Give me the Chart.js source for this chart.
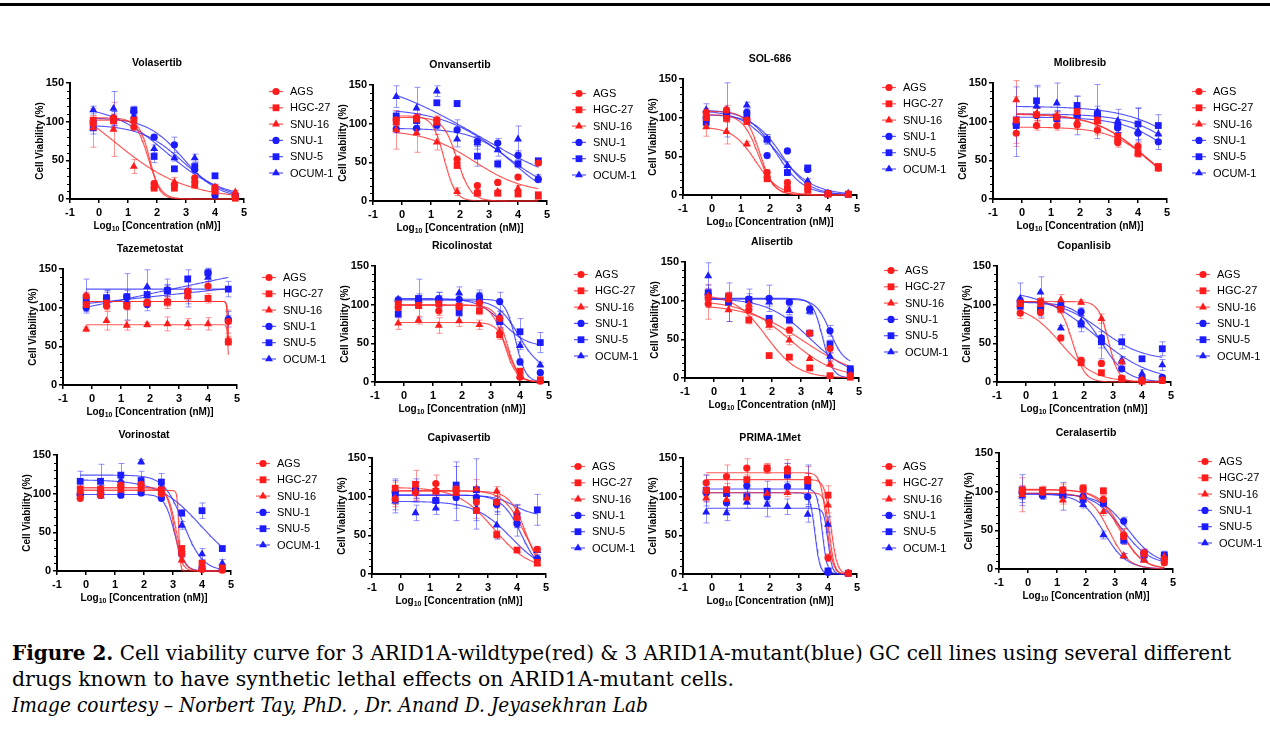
<!DOCTYPE html>
<html>
<head>
<meta charset="utf-8">
<script src="https://cdn.jsdelivr.net/npm/chart.js@4.4.1/dist/chart.umd.min.js"></script>
<style>
  body { margin: 0; width: 1270px; height: 751px; background: #fff; position: relative; overflow: hidden; }
  #topRule { position: absolute; left: 0; top: 3px; width: 1270px; height: 3px; background: #000; }
  .panel { position: absolute; }
  #caption { position: absolute; left: 12px; top: 640px; font-family: "DejaVu Serif", serif; font-size: 19px; line-height: 26px; color: #000; white-space: nowrap; }
  #caption span { display: inline-block; transform-origin: 0 50%; }
</style>
</head>
<body>
<div id="topRule"></div>
<div id="panels"></div>
<div id="caption">
  <span id="capLine1"><b>Figure 2.</b> Cell viability curve for 3 ARID1A-wildtype(red) &amp; 3 ARID1A-mutant(blue) GC cell lines using several different</span><br>
  <span id="capLine2">drugs known to have synthetic lethal effects on ARID1A-mutant cells.</span><br>
  <span id="capLine3"><i>Image courtesy – Norbert Tay, PhD. , Dr. Anand D. Jeyasekhran Lab</i></span>
</div>
<script>
// log10 doses (nM) used on every plate
const doses = [-0.2, 0.5, 1.2, 1.9, 2.6, 3.3, 4.0, 4.7];
const cellLines = ["AGS", "HGC-27", "SNU-16", "SNU-1", "SNU-5", "OCUM-1"];
const drugs = ["Volasertib", "Onvansertib", "SOL-686", "Molibresib", "Tazemetostat", "Ricolinostat",
               "Alisertib", "Copanlisib", "Vorinostat", "Capivasertib", "PRIMA-1Met", "Ceralasertib"];
const xTicks = [-1, 0, 1, 2, 3, 4, 5];
const yTicks = [0, 50, 100, 150];

// mean viability, rows follow cellLines
const volasertibMean = [[97,105,93,20,18,27,15,2],[102,101,102,14,14,18,10,1],[92,90,42,17,22,25,12,9],
  [100,105,113,80,70,38,5,4],[92,103,115,55,39,42,30,3],[115,117,107,65,53,53,15,6]];
const volasertibErr = [[8,5,4,4,3,4,4,1],[6,6,4,3,2,3,3,1],[25,35,9,3,6,5,5,2],
  [5,8,5,3,10,5,3,2],[8,10,5,8,3,5,3,2],[5,22,5,5,4,5,4,2]];
// fitted curve: [top, bottom, logIC50, hill]
const volasertibFit = [[102,0,1.75,2.5],[105,0,1.7,2.0],[150,0,0.5,0.35],[105,0,2.9,0.7],[96,0,2.9,0.6],[122,0,2.3,0.45]];

const onvansertibMean = [[105,108,105,54,20,24,31,49],[102,106,102,46,10,10,9,8],[92,88,76,12,12,12,16,5],
  [93,94,98,92,77,75,59,28],[110,104,127,126,58,48,48,52],[135,120,142,80,75,66,80,30]];
const onvansertibErr = [[6,5,5,4,3,3,3,3],[6,5,6,4,3,3,2,2],[25,25,10,5,3,3,4,2],
  [5,8,5,13,6,6,6,4],[6,6,3,4,13,5,5,3],[14,27,7,10,8,8,17,4]];
const onvansertibFit = [[92,10,2.5,0.5],[108,0,1.9,1.8],[110,0,1.45,2.2],[94,0,3.9,0.6],[120,0,3.5,0.4],[170,0,2.6,0.22]];

const sol686Mean = [[107,110,97,29,16,12,2,1],[100,99,95,21,8,6,1,1],[88,82,66,25,8,9,1,1],
  [100,105,107,51,57,33,2,1],[94,103,100,72,29,35,2,1],[110,110,116,72,38,18,2,2]];
const sol686Err = [[5,6,4,4,4,3,1,1],[5,5,4,3,2,2,1,1],[12,16,3,3,2,2,1,1],
  [5,5,3,3,2,2,1,1],[5,5,4,6,3,3,1,1],[8,35,4,6,5,3,1,1]];
const sol686Fit = [[108,0,1.65,1.8],[104,0,1.6,1.6],[88,0,1.5,1.1],[104,0,2.4,0.9],[110,0,2.2,0.9],[110,0,2.25,0.7]];

const molibresibMean = [[85,95,95,96,89,73,68,40],[102,109,106,113,102,81,59,42],[128,110,107,100,100,78,60,39],
  [97,108,106,108,108,92,85,74],[95,127,104,121,110,94,97,95],[100,120,124,108,113,101,88,84]];
const molibresibErr = [[17,6,6,6,6,6,5,3],[30,8,6,6,6,8,5,3],[25,8,6,6,6,8,5,3],
  [10,10,8,8,8,6,10,10],[8,20,10,12,10,8,20,14],[45,25,26,25,35,15,30,12]];
const molibresibFit = [[93,0,4.5,0.6],[111,0,4.2,0.5],[110,0,4.25,0.5],[106,0,5.43,0.5],[120,0,6.0,0.4],[110,0,5.7,0.5]];

const tazemetostatMean = [[115,102,102,107,108,121,128,82],[104,106,103,106,107,115,112,56],[72,83,77,78,79,79,79,58],
  [100,112,114,104,123,121,145,85],[108,113,114,117,122,137,145,124],[115,110,108,127,122,115,139,85]];
const tazemetostatErr = [[5,5,5,5,6,6,6,15],[5,5,5,5,8,6,6,5],[3,12,6,3,9,7,8,5],
  [5,10,8,8,6,20,5,10],[6,10,30,10,8,12,6,10],[22,10,10,22,15,10,5,5]];
const tazemetostatFit = [[108,0,4.7,20],[108,0,4.7,20],[78,0,4.7,20],[80,150,2.25,0.1],[124,124,2.25,1],[50,190,2.25,0.1]];

const ricolinostatMean = [[96,99,92,97,102,82,6,1],[101,99,101,98,92,61,14,3],[76,80,73,79,74,65,8,1],
  [106,106,108,107,111,104,26,12],[88,108,106,90,107,78,65,51],[107,107,107,115,106,85,47,22]];
const ricolinostatErr = [[5,4,6,4,4,5,2,1],[5,4,4,4,5,6,3,2],[8,5,10,7,6,5,2,1],
  [3,8,8,5,8,12,4,2],[5,25,10,5,8,8,17,13],[3,5,5,8,10,6,5,3]];
const ricolinostatFit = [[99,0,3.55,2.2],[100,0,3.45,2.0],[77,0,3.6,2.2],[107,0,3.85,2.5],[108,45,3.4,1.0],[106,15,3.95,1.2]];

const alisertibMean = [[96,102,88,72,62,58,38,3],[104,106,75,29,27,13,3,1],[106,88,95,68,49,25,18,3],
  [108,105,102,103,98,89,61,10],[110,98,101,77,75,58,44,12],[132,103,100,98,87,86,28,8]];
const alisertibErr = [[20,5,4,5,4,3,6,1],[10,5,5,2,3,2,1,1],[15,15,5,5,6,2,3,1],
  [6,5,13,17,3,4,7,3],[10,25,8,4,5,3,5,3],[17,5,5,5,5,4,5,3]];
const alisertibFit = [[95,0,3.1,0.45],[108,0,1.8,0.8],[100,0,2.6,0.55],[102,18,4.0,1.8],[103,0,3.3,0.6],[103,0,3.75,2.5]];

const copanlisibMean = [[89,90,57,28,24,5,2,2],[102,104,94,25,12,4,1,2],[100,100,106,103,82,26,3,2],
  [104,92,97,91,57,17,5,6],[98,94,99,75,52,52,30,43],[108,116,70,78,55,28,11,22]];
const copanlisibErr = [[7,8,3,4,3,2,1,1],[5,5,5,4,3,2,1,1],[5,5,7,3,6,4,2,1],
  [5,8,5,5,8,3,2,2],[5,6,5,10,8,9,3,9],[20,20,3,8,25,5,5,7]];
const copanlisibFit = [[100,0,1.2,0.75],[104,0,1.6,2.0],[104,0,2.85,2.5],[103,0,2.6,1.0],[106,28,2.6,0.6],[120,0,2.4,0.45]];

const vorinostatMean = [[94,98,111,112,100,22,2,1],[106,106,108,107,105,29,10,4],[102,103,104,106,102,14,4,1],
  [98,98,98,101,94,22,4,2],[116,116,124,117,115,75,78,29],[103,106,117,141,108,59,22,10]];
const vorinostatErr = [[3,4,5,5,5,3,1,1],[5,5,5,5,5,4,3,2],[4,4,4,4,5,3,2,1],
  [3,3,3,3,3,3,2,1],[13,22,15,12,11,4,10,3],[5,5,5,3,5,5,7,5]];
const vorinostatFit = [[106,0,3.05,3.5],[108,0,3.1,3.0],[104,0,3.2,15],[99,0,3.05,2.5],[118,0,3.95,0.6],[124,0,3.35,1.3]];

const capivasertibMean = [[97,105,117,110,93,93,73,32],[111,116,107,106,82,51,31,15],[98,107,109,104,110,107,81,13],
  [106,108,95,99,99,90,65,20],[103,108,95,115,109,92,75,83],[94,79,85,104,85,63,69,30]];
const capivasertibErr = [[10,8,11,8,10,8,6,3],[8,18,8,8,10,5,3,3],[8,12,8,8,12,6,8,3],
  [15,10,10,10,10,10,5,3],[20,15,10,30,40,15,15,20],[15,10,8,35,27,18,20,5]];
const capivasertibFit = [[108,0,4.25,1.2],[112,5,3.2,0.7],[107,0,4.3,1.6],[102,0,4.15,1.3],[102,75,3.9,1.2],[94,0,3.8,0.7]];

const prima1MetMean = [[118,126,137,136,136,122,21,1],[108,109,122,137,133,122,102,1],[98,96,98,104,105,119,89,1],
  [105,92,114,100,113,100,2,1],[108,104,100,107,128,114,4,1],[80,79,93,90,87,77,64,1]];
const prima1MetErr = [[10,15,12,6,12,8,5,1],[8,8,6,6,10,8,12,1],[5,5,5,5,5,20,10,1],
  [8,10,8,8,6,10,2,1],[20,8,10,13,15,27,3,1],[14,10,8,16,10,10,10,1]];
const prima1MetFit = [[131,0,3.95,4],[122,0,4.1,4],[105,0,4.05,5],[105,0,3.55,5],[110,0,3.8,5],[85,0,4.0,6]];

const ceralasertibMean = [[100,100,102,104,90,44,21,8],[102,102,102,104,101,42,20,12],[96,98,89,93,74,17,11,16],
  [98,95,96,94,86,62,20,17],[102,97,96,90,85,37,19,18],[94,97,94,83,44,17,12,15]];
const ceralasertibErr = [[8,5,5,5,5,8,5,3],[5,5,8,5,4,10,5,3],[22,5,5,12,5,3,2,3],
  [8,5,5,4,5,5,5,5],[20,5,8,3,4,5,4,5],[8,5,18,4,5,3,2,3]];
const ceralasertibFit = [[102,0,3.2,1.2],[103,0,3.15,1.1],[98,0,2.8,1.3],[97,5,3.45,0.9],[98,5,3.25,0.9],[97,0,2.6,1.1]];

const meanSets = [volasertibMean, onvansertibMean, sol686Mean, molibresibMean, tazemetostatMean, ricolinostatMean,
                  alisertibMean, copanlisibMean, vorinostatMean, capivasertibMean, prima1MetMean, ceralasertibMean];
const errSets = [volasertibErr, onvansertibErr, sol686Err, molibresibErr, tazemetostatErr, ricolinostatErr,
                 alisertibErr, copanlisibErr, vorinostatErr, capivasertibErr, prima1MetErr, ceralasertibErr];
const fitSets = [volasertibFit, onvansertibFit, sol686Fit, molibresibFit, tazemetostatFit, ricolinostatFit,
                 alisertibFit, copanlisibFit, vorinostatFit, capivasertibFit, prima1MetFit, ceralasertibFit];

// layout: pixel position of the y axis / top of the plot for each panel
const panelOrigins = [[70,83],[373,85],[683,79],[993,83],[63,269],[375,266],[685,262],[997,266],
                      [57,455],[372,458],[683,458],[999,453]];
const PLOT_W = 174, PLOT_H = 116, LEFT_W = 60, TOP_H = 32, BOTTOM_H = 42, RIGHT_W = 100;

const RED = "#ff1c1c", BLUE = "#1c1cff";
const seriesColor = [RED, RED, RED, BLUE, BLUE, BLUE];
const seriesFaint = ["rgba(255,60,60,0.55)", "rgba(255,60,60,0.55)", "rgba(255,60,60,0.55)",
                     "rgba(60,60,255,0.55)", "rgba(60,60,255,0.55)", "rgba(60,60,255,0.55)"];
const seriesCurve = ["rgba(255,40,40,0.8)", "rgba(255,40,40,0.8)", "rgba(255,40,40,0.8)",
                     "rgba(40,40,255,0.8)", "rgba(40,40,255,0.8)", "rgba(40,40,255,0.8)"];
const seriesShape = ["circle", "rect", "triangle", "circle", "rect", "triangle"];
const shapeRadius = { circle: 3.6, rect: 4.8, triangle: 4.6 };

const FONT = '"Liberation Sans", Arial, sans-serif';

function fitCurve(p) {
    let top = p[0], bottom = p[1], logIC50 = p[2], hill = p[3];
    let x0 = doses[0], x1 = doses[doses.length - 1];
    let pts = [];
    for (let i = 0; i <= 300; i++) {
        let x = x0 + (x1 - x0) * i / 300;
        pts.push({ x: x, y: bottom + (top - bottom) / (1 + Math.pow(10, (x - logIC50) * hill)) });
    }
    return pts;
}

function drawMarker(ctx, shape, x, y, color) {
    let r = shapeRadius[shape];
    ctx.fillStyle = color;
    ctx.beginPath();
    if (shape === "circle") {
        ctx.arc(x, y, r, 0, Math.PI * 2);
    } else if (shape === "rect") {
        let s = r * Math.SQRT1_2;
        ctx.rect(x - s, y - s, 2 * s, 2 * s);
    } else {
        for (let k = 0; k < 3; k++) {
            let a = k * 2 * Math.PI / 3;
            let px = x + Math.sin(a) * r, py = y - Math.cos(a) * r;
            if (k === 0) ctx.moveTo(px, py); else ctx.lineTo(px, py);
        }
        ctx.closePath();
    }
    ctx.fill();
}

const panelDecor = {
    id: "panelDecor",
    beforeDatasetsDraw(chart) {
        let ctx = chart.ctx, xs = chart.scales.x, ys = chart.scales.y;
        ctx.save();
        ctx.lineWidth = 1;
        chart.data.datasets.forEach(ds => {
            if (!ds.errors) return;
            ctx.strokeStyle = ds.faint;
            ds.data.forEach((pt, j) => {
                let e = ds.errors[j];
                if (!e) return;
                let px = Math.round(xs.getPixelForValue(pt.x)) + 0.5;
                let yTop = ys.getPixelForValue(pt.y + e), yBot = ys.getPixelForValue(Math.max(pt.y - e, 0));
                ctx.beginPath();
                ctx.moveTo(px, yTop); ctx.lineTo(px, yBot);
                ctx.moveTo(px - 3, yTop); ctx.lineTo(px + 3, yTop);
                ctx.moveTo(px - 3, yBot); ctx.lineTo(px + 3, yBot);
                ctx.stroke();
            });
        });
        ctx.restore();
    },
    afterDraw(chart) {
        let ctx = chart.ctx, a = chart.chartArea, ys = chart.scales.y;
        let cx = (a.left + a.right) / 2;
        ctx.save();
        ctx.fillStyle = "#000";

        // minor ticks on the y axis
        ctx.strokeStyle = "#000";
        ctx.lineWidth = 1;
        for (let v = 10; v < 150; v += 10) {
            if (v % 50 === 0) continue;
            let py = Math.round(ys.getPixelForValue(v)) + 0.5;
            ctx.beginPath();
            ctx.moveTo(a.left - 3, py); ctx.lineTo(a.left, py);
            ctx.stroke();
        }

        // drug name
        ctx.font = "bold 10.5px " + FONT;
        ctx.textAlign = "center";
        ctx.textBaseline = "middle";
        ctx.fillText(chart.options.drugName, cx, a.top - 19.5);

        // x title with subscript
        ctx.font = "bold 10px " + FONT;
        let w1 = ctx.measureText("Log").width;
        let w3 = ctx.measureText(" [Concentration (nM)]").width;
        ctx.font = "bold 7px " + FONT;
        let w2 = ctx.measureText("10").width;
        let sx = cx - (w1 + w2 + w3) / 2, ty = a.bottom + 27;
        ctx.textAlign = "left";
        ctx.font = "bold 10px " + FONT;
        ctx.fillText("Log", sx, ty);
        ctx.font = "bold 7px " + FONT;
        ctx.fillText("10", sx + w1, ty + 3);
        ctx.font = "bold 10px " + FONT;
        ctx.fillText(" [Concentration (nM)]", sx + w1 + w2, ty);

        // y title
        ctx.save();
        ctx.translate(a.left - 30, (a.top + a.bottom) / 2);
        ctx.rotate(-Math.PI / 2);
        ctx.textAlign = "center";
        ctx.fillText("Cell Viability (%)", 0, 0);
        ctx.restore();

        // legend
        ctx.font = "11px " + FONT;
        ctx.textAlign = "left";
        cellLines.forEach((name, i) => {
            let lx = a.right + 32, ly = a.top + 8.5 + i * 16.3;
            ctx.strokeStyle = seriesCurve[i];
            ctx.lineWidth = 1.2;
            ctx.beginPath();
            ctx.moveTo(lx - 7, ly); ctx.lineTo(lx + 7, ly);
            ctx.stroke();
            drawMarker(ctx, seriesShape[i], lx, ly, seriesColor[i]);
            ctx.fillStyle = "#000";
            ctx.fillText(name, lx + 14, ly + 0.5);
        });
        ctx.restore();
    }
};

const panelsDiv = document.getElementById("panels");

drugs.forEach((drug, p) => {
    let canvas = document.createElement("canvas");
    canvas.className = "panel";
    canvas.width = LEFT_W + PLOT_W + RIGHT_W;
    canvas.height = TOP_H + PLOT_H + BOTTOM_H;
    canvas.style.left = (panelOrigins[p][0] - LEFT_W) + "px";
    canvas.style.top = (panelOrigins[p][1] - TOP_H) + "px";
    panelsDiv.appendChild(canvas);

    let datasets = [];
    // points first so they draw on top of curves
    cellLines.forEach((name, i) => {
        datasets.push({
            label: name,
            data: doses.map((x, j) => ({ x: x, y: meanSets[p][i][j] })),
            errors: errSets[p][i],
            faint: seriesFaint[i],
            showLine: false,
            pointStyle: seriesShape[i],
            pointRadius: shapeRadius[seriesShape[i]],
            pointBackgroundColor: seriesColor[i],
            pointBorderWidth: 0,
            borderColor: seriesColor[i],
            clip: false
        });
    });
    cellLines.forEach((name, i) => {
        datasets.push({
            label: name + " fit",
            data: fitCurve(fitSets[p][i]),
            showLine: true,
            borderColor: seriesCurve[i],
            borderWidth: 1.1,
            pointRadius: 0,
            tension: 0,
            clip: false
        });
    });

    new Chart(canvas, {
        type: "scatter",
        data: { datasets: datasets },
        options: {
            drugName: drug,
            responsive: false,
            animation: false,
            events: [],
            layout: { padding: { top: TOP_H, right: RIGHT_W, left: 0, bottom: 0 } },
            plugins: { legend: { display: false }, tooltip: { enabled: false }, title: { display: false } },
            scales: {
                x: {
                    type: "linear",
                    min: xTicks[0], max: xTicks[xTicks.length - 1],
                    afterBuildTicks: s => { s.ticks = xTicks.map(v => ({ value: v })); },
                    afterFit: s => { s.height = BOTTOM_H; },
                    grid: { display: true, drawOnChartArea: false, drawTicks: true, tickLength: 4, color: "#000", lineWidth: 1.5 },
                    border: { display: true, color: "#000", width: 2 },
                    ticks: { color: "#000", padding: 3, maxRotation: 0, autoSkip: false, font: { family: FONT, size: 11, weight: "bold" } }
                },
                y: {
                    type: "linear",
                    min: yTicks[0], max: yTicks[yTicks.length - 1],
                    afterBuildTicks: s => { s.ticks = yTicks.map(v => ({ value: v })); },
                    afterFit: s => { s.width = LEFT_W; },
                    grid: { display: true, drawOnChartArea: false, drawTicks: true, tickLength: 4, color: "#000", lineWidth: 1.5 },
                    border: { display: true, color: "#000", width: 2 },
                    ticks: { color: "#000", padding: 2, autoSkip: false, font: { family: FONT, size: 11, weight: "bold" } }
                }
            }
        },
        plugins: [panelDecor]
    });
});

// fit the caption lines to the widths they have in the figure
const caption = document.getElementById("caption");
const capLines = [["capLine1", 1220], ["capLine2", 722], ["capLine3", 636]];
caption.style.fontSize = "20px";
let capW = document.getElementById("capLine1").getBoundingClientRect().width;
caption.style.fontSize = (20 * 1220 / capW).toFixed(2) + "px";
capLines.slice(1).forEach(([id, target]) => {
    let el = document.getElementById(id);
    let w = el.getBoundingClientRect().width;
    el.style.transform = "scaleX(" + (target / w).toFixed(4) + ")";
});
</script>
</body>
</html>
